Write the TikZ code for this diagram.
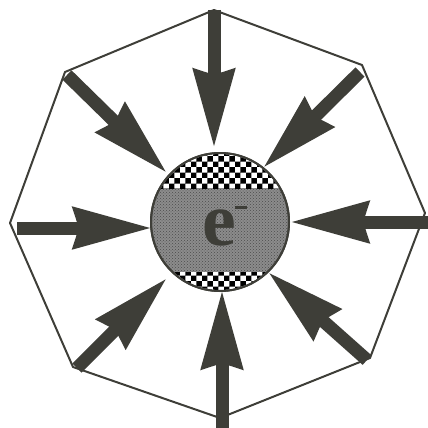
\documentclass[tikz,border=0pt]{standalone}
\usepackage{fontspec}
\setmainfont{Liberation Serif}
\usepackage{xcolor}
\usetikzlibrary{arrows.meta,patterns}
\definecolor{ink}{RGB}{62,62,56}
\definecolor{core}{RGB}{140,140,140}

\begin{document}
\begin{tikzpicture}[
  x=1pt, y=-1pt,
  wall/.style={draw=ink, line width=2pt, line join=round},
  ray/.style={draw=ink, line width=13pt,
              -{Stealth[length=78pt, width=40pt, inset=5pt]}},
  ball/.style={circle, draw=ink, line width=2pt, minimum size=138pt,
               inner sep=0pt, fill=core},
  lbl/.style={font=\fontsize{76}{76}\selectfont\bfseries, text=ink, inner sep=0pt}
]
\useasboundingbox (0,0) rectangle (428,428);

% octagon corners
\coordinate (vT)  at (214,10);
\coordinate (vUR) at (362,65);
\coordinate (vR)  at (425,213);
\coordinate (vLR) at (370,358);
\coordinate (vB)  at (220,418);
\coordinate (vLL) at (73,367);
\coordinate (vL)  at (10,223);
\coordinate (vUL) at (65,72);
\draw[wall] (vT) -- (vUR) -- (vR) -- (vLR) -- (vB) -- (vLL) -- (vL) -- (vUL) -- cycle;

% the charge
\node[ball] (e) at (220,222) {};
\begin{scope}
  \clip (e.center) circle (68pt);
  \fill[pattern=crosshatch dots, pattern color=black!70] (150,150) rectangle (290,292);
  \fill[white] (150,150) rectangle (290,188);
  \fill[pattern=checkerboard, pattern color=black] (150,150) rectangle (290,188);
  \fill[white] (150,272) rectangle (290,292);
  \fill[pattern=checkerboard, pattern color=black] (150,272) rectangle (290,292);
\end{scope}
\draw[draw=ink, line width=2pt] (e.center) circle (69pt);
\node[lbl, anchor=base] (q) at (219,245) {e};
\node[fill=ink, minimum width=12pt, minimum height=3pt, inner sep=0pt] (minus) at (241,207) {};

% field arrows
\coordinate (s1) at (214,10);   \coordinate (t1) at (214,148);
\coordinate (s2) at (360,72);   \coordinate (t2) at (263,168);
\coordinate (s3) at (428,222);  \coordinate (t3) at (290,222);
\coordinate (s4) at (367,360);  \coordinate (t4) at (268,272);
\coordinate (s5) at (222,428);  \coordinate (t5) at (222,290);
\coordinate (s6) at (77,368);   \coordinate (t6) at (167,278);
\coordinate (s7) at (17,228);   \coordinate (t7) at (152,228);
\coordinate (s8) at (67,75);    \coordinate (t8) at (167,173);
\foreach \i in {1,...,8}
  \draw[ray] (s\i) -- (t\i);
\end{tikzpicture}
\end{document}
